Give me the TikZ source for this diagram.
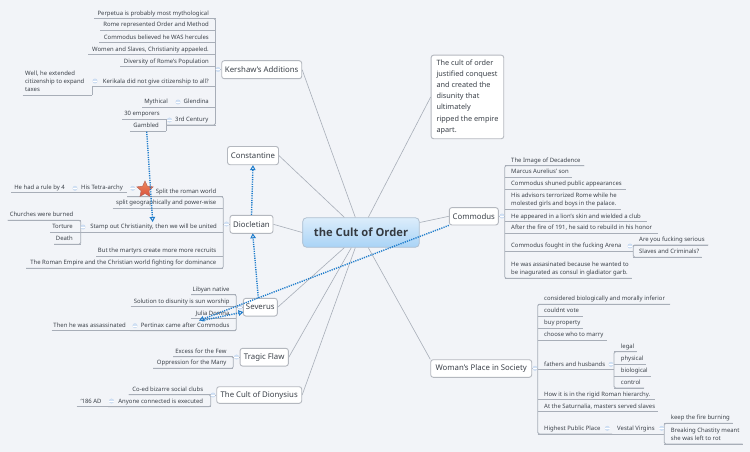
\documentclass[tikz,border=0pt]{standalone}
\usepackage{fontspec}
\setmainfont{Noto Sans}
\newfontfamily\rootfont{Open Sans}
\usetikzlibrary{arrows.meta,shapes.geometric,calc}
\definecolor{bgc}{HTML}{F2F4F8}
\definecolor{linec}{HTML}{A8AEB8}
\definecolor{boxc}{HTML}{B4B8BF}
\definecolor{txtc}{HTML}{3A4048}
\definecolor{dotc}{HTML}{1E7CCB}
\definecolor{rootin}{HTML}{DCEDFB}
\definecolor{rootout}{HTML}{A9D3F6}
\definecolor{starup}{HTML}{EE8A5A}
\definecolor{stardn}{HTML}{D9503F}
\definecolor{HTMLmk}{HTML}{D3E2F5}
\definecolor{HTMLmk2}{HTML}{C6D9F0}
\tikzset{
  leaf/.style={inner sep=0pt,text=txtc,font=\fontsize{5.95}{8.3}\selectfont,align=left},
  ul/.style={draw=linec,line width=0.8pt},
  topicbox/.style={draw=boxc,line width=0.9pt,fill=white,rounded corners=2.5pt,text=txtc,font=\fontsize{7.8}{9}\selectfont,inner sep=0pt},
  spoke/.style={draw=linec,line width=0.6pt},
  rel/.style={draw=dotc,line width=1.4pt,dash pattern=on 1.2pt off 1.1pt,-{Triangle[open,length=5pt,width=5.5pt,line width=1pt]}},
  mk/.style={circle,minimum size=4.4pt,inner sep=0pt,fill=HTMLmk,draw=HTMLmk2,line width=0.4pt},
}
% right aligned text above an underline
\newcommand{\tr}[6]{%
  \coordinate (#1-l) at (#2,#4); \coordinate (#1-r) at (#3,#4);
  \node[leaf,anchor=base east] (#1) at (#5,#4-3.4) {#6};
  \draw[ul] (#1-l) -- (#1-r);}
% left aligned text above an underline
\newcommand{\tl}[6]{%
  \coordinate (#1-l) at (#2,#4); \coordinate (#1-r) at (#3,#4);
  \node[leaf,anchor=base west] (#1) at (#5,#4-3.4) {#6};
  \draw[ul] (#1-l) -- (#1-r);}
\newcommand{\trunkL}[2]{\draw[ul,rounded corners=1.5pt] (#1-l) -- (#1-r) -- (#2-r) -- (#2-l);}
\newcommand{\trunkR}[2]{\draw[ul,rounded corners=1.5pt] (#1-r) -- (#1-l) -- (#2-l) -- (#2-r);}
\newcommand{\mkat}[3]{\node[mk] (#1) at (#2,#3) {}; \draw[white,line width=0.4pt] (#1.west) -- (#1.east);}
\begin{document}
\begin{tikzpicture}[x=1pt,y=-1pt]
\fill[bgc] (0,0) rectangle (750,452);
\useasboundingbox (0,0) rectangle (750,452);

% central topic and main topics
\node[draw=boxc!70!rootout,line width=0.8pt,rounded corners=4pt,top color=rootin,bottom color=rootout,text=txtc!90!black,font=\rootfont\fontsize{11.2}{13}\selectfont\bfseries,minimum width=116.6pt,minimum height=29.6pt,inner sep=0pt] (root) at (361,232.5) {the Cult of Order};
\node[topicbox,minimum width=80pt,minimum height=18pt] (kers) at (261.7,69.7) {Kershaw's Additions};
\node[topicbox,minimum width=51pt,minimum height=18.2pt] (cons) at (253,155.6) {Constantine};
\node[topicbox,minimum width=43pt,minimum height=18pt] (dioc) at (251.5,224.3) {Diocletian};
\node[topicbox,minimum width=34pt,minimum height=17.7pt] (seve) at (260.3,307.2) {Severus};
\node[topicbox,minimum width=48.3pt,minimum height=17.7pt] (trag) at (264.2,357.2) {Tragic Flaw};
\node[topicbox,minimum width=85pt,minimum height=16.6pt] (diony) at (259.2,395) {The Cult of Dionysius};
\node[topicbox,minimum width=49pt,minimum height=17.3pt] (comm) at (473.8,216.3) {Commodus};
\node[topicbox,minimum width=101pt,minimum height=17.6pt] (woman) at (481.2,368.5) {Woman's Place in Society};
\node[topicbox,minimum width=72.6pt,minimum height=83.6pt,anchor=north west,align=left,font=\fontsize{7.3}{11.1}\selectfont] (note) at (430.7,54.7) {The cult of order\\justified conquest\\and created the\\disunity that\\ultimately\\ripped the empire\\apart.};

% spokes
\draw[spoke] (kers.east) -- ($(root.north west)+(53,0)$);
\draw[spoke] (cons.east) -- ($(root.north west)+(42,0)$);
\draw[spoke] (dioc.east) -- (root.west);
\draw[spoke] (seve.east) -- ($(root.south west)+(42,0)$);
\draw[spoke] (trag.east) -- ($(root.south west)+(49,0)$);
\draw[spoke] (diony.east) -- ($(root.south west)+(53,0)$);
\draw[spoke] (woman.north west) -- ($(root.south west)+(66,0)$);
\draw[spoke] (comm.west) -- ($(root.east)+(0,-10)$);
\draw[spoke] (note.west) -- ($(root.north west)+(66,0)$);

% Kershaw
\tr{perp}{94}{215.5}{18.5}{209}{Perpetua is probably most mythological}
\tr{rome}{100}{215.5}{30}{209}{Rome represented Order and Method}
\tr{cbel}{99}{215.5}{42.5}{209}{Commodus believed he WAS hercules}
\tr{wosl}{88}{215.5}{54.5}{209}{Women and Slaves, Christianity appaeled.}
\tr{dive}{120}{215.5}{66.5}{209}{Diversity of Rome's Population}
\tr{keri}{92}{215.5}{86.7}{209}{Kerikala did not give citizenship to all?}
\tl{well}{22.7}{92}{95.3}{25}{Well, he extended\\citizenship to expand\\taxes}
\draw[ul] (keri-l) -- (well-r);
\tr{glen}{177}{215.5}{107.3}{209}{Glendina}
\tr{myth}{142}{177}{107.3}{168}{Mythical}
\tr{cent}{167}{215.5}{125}{208.5}{3rd Century}
\tr{empo}{122}{166}{119.3}{160}{30 emporers}
\tr{gamb}{130}{166}{131.3}{159}{Gambled}
\draw[ul] (empo-r) -- (gamb-r);
\trunkL{perp}{cent}
\draw[ul] (kers.west) -- (kers.west -| perp-r);
\mkat{m1}{218}{69.5}\mkat{m2}{95}{81}\mkat{m3}{178}{102}\mkat{m4}{169.5}{120}

% Diocletian
\tr{spli}{127}{223.3}{196.7}{216.5}{Split the roman world}
\tr{tetr}{72}{127}{192.7}{123}{His Tetra-archy}
\tr{rule}{11}{72}{192.7}{65}{He had a rule by 4}
\tr{geog}{112.7}{223.3}{208.3}{216.5}{split geographically and power-wise}
\tr{stam}{80.7}{223.3}{232.3}{217}{Stamp out Christianity, then we will be united}
\tr{chur}{7.7}{80.7}{220.3}{73.5}{Churches were burned}
\tr{tort}{50}{80.7}{232.3}{73}{Torture}
\tr{deat}{54}{80.7}{244.3}{73}{Death}
\trunkL{chur}{deat}
\tr{mart}{96}{223.3}{256.3}{216.5}{But the martyrs create more more recruits}
\tr{rwor}{26}{223.3}{268.3}{216.5}{The Roman Empire and the Christian world fighting for dominance}
\trunkL{spli}{rwor}
\draw[ul] (dioc.west) -- (dioc.west -| spli-r);
\mkat{m5}{226.5}{224}\mkat{m6}{132.7}{188.3}\mkat{m7}{75}{188.3}\mkat{m8}{83}{227}

% Severus
\tr{liby}{191}{236.3}{294.7}{229.7}{Libyan native}
\tr{solu}{130.7}{236.3}{306.7}{229.7}{Solution to disunity is sun worship}
\tr{juli}{191}{236.3}{318.7}{229.7}{Julia Domna}
\tr{pert}{130}{236.3}{330.7}{229.7}{Pertinax came after Commodus}
\tr{then}{51.7}{130}{330.7}{126}{Then he was assassinated}
\trunkL{liby}{pert}
\draw[ul] (seve.west) -- (seve.west -| liby-r);
\mkat{m9}{135}{325.7}\mkat{m10}{240}{307}

% Tragic flaw
\tr{exce}{173}{233.3}{356.7}{226.7}{Excess for the Few}
\tr{oppr}{153}{233.3}{368.3}{226.7}{Oppression for the Many}
\trunkL{exce}{oppr}
\draw[ul] (trag.west) -- (trag.west -| exce-r);
\mkat{m11}{236.5}{357}

% Dionysius
\tr{coed}{128.7}{210.7}{394.7}{203.3}{Co-ed bizarre social clubs}
\tr{anyo}{108}{210.7}{406.7}{203.3}{Anyone connected is executed}
\tr{year}{76.7}{108}{406.7}{101.7}{`186 AD}
\trunkL{coed}{anyo}
\draw[ul] (diony.west) -- (diony.west -| coed-r);
\mkat{m12}{213}{395}\mkat{m13}{111.5}{401}

% Commodus
\tl{imag}{504.7}{584.3}{165.7}{511}{The Image of Decadence}
\tl{marc}{504.7}{571.7}{177.3}{511}{Marcus Aurelius' son}
\tl{shun}{504.7}{625.7}{189}{511}{Commodus shuned public appearances}
\tl{advi}{504.7}{620.7}{209}{511}{His advisors terrorized Rome while he\\molested girls and boys in the palace.}
\tl{lion}{504.7}{646.7}{221.7}{511}{He appeared in a lion's skin and wielded a club}
\tl{fire}{504.7}{657.7}{233.3}{511}{After the fire of 191, he said to rebuild in his honor}
\tl{foug}{504.7}{633.3}{251}{511}{Commodus fought in the fucking Arena}
\tl{areu}{633.3}{708.3}{245}{639}{Are you fucking serious}
\tl{slav}{633.3}{701.7}{257.3}{639}{Slaves and Criminals?}
\trunkR{areu}{slav}
\tl{assa}{504.7}{631.7}{278.3}{511}{He was assasinated because he wanted to\\be inagurated as consul in gladiator garb.}
\trunkR{imag}{assa}
\draw[ul] (comm.east) -- (comm.east -| imag-l);
\mkat{m14}{502}{216}\mkat{m15}{630}{246}

% Woman
\tl{cons2}{537.7}{670}{304.3}{544}{considered biologically and morally inferior}
\tl{vote}{537.7}{583.3}{316.3}{544}{couldnt vote}
\tl{prop}{537.7}{583.3}{328.3}{544}{buy property}
\tl{marr}{537.7}{606.7}{340.3}{544}{choose who to marry}
\tl{fath}{537.7}{614}{369.7}{544}{fathers and husbands}
\tl{lega}{614}{636.7}{351.7}{620.7}{legal}
\tl{phys}{614}{645.7}{364}{620.7}{physical}
\tl{biol}{614}{650.7}{376}{620.7}{biological}
\tl{cont}{614}{644}{388}{620.7}{control}
\trunkR{lega}{cont}
\tl{hier}{537.7}{655}{399.7}{544}{How it is in the rigid Roman hierarchy.}
\tl{satu}{537.7}{658.3}{411.7}{544}{At the Saturnalia, masters served slaves}
\tl{high}{537.7}{612}{434}{544}{Highest Public Place}
\tl{vest}{612}{664.3}{434}{617}{Vestal Virgins}
\tl{keep}{664.3}{732.7}{423.3}{670.7}{keep the fire burning}
\tl{brea}{664.3}{742.7}{444}{670.7}{Breaking Chastity meant\\she was left to rot}
\trunkR{keep}{brea}
\trunkR{cons2}{high}
\draw[ul] (woman.east) -- (woman.east -| cons2-l);
\mkat{m16}{535}{368.3}\mkat{m17}{611}{364.3}\mkat{m18}{607.3}{428.3}\mkat{m19}{661.7}{428.3}

% star (below the relationship line)
\node[star,star points=5,star point ratio=2.1,minimum size=17pt,inner sep=0pt,draw=stardn!60!gray,line width=0.5pt,top color=starup,bottom color=stardn] (star) at (145,189.5) {};

% relationships
\coordinate (stamhit) at (152.7,222);
\coordinate (pertend) at (199,320.5);
\coordinate (pertsta) at (202,320.5);
\coordinate (sevtop) at (258.3,297.8);
\coordinate (diobot) at (252.7,233.3);
\coordinate (gambhit) at (146.7,131.6);
\coordinate (sevin) at (243.5,312);
\draw[rel] (gambhit) -- (stamhit);
\draw[rel] (dioc.north) -- (cons.south);
\draw[rel] (sevtop) -- (diobot);
\draw[rel] (comm.south west) -- (pertend);
\draw[rel] (pertsta) -- (sevin);
\end{tikzpicture}
\end{document}
